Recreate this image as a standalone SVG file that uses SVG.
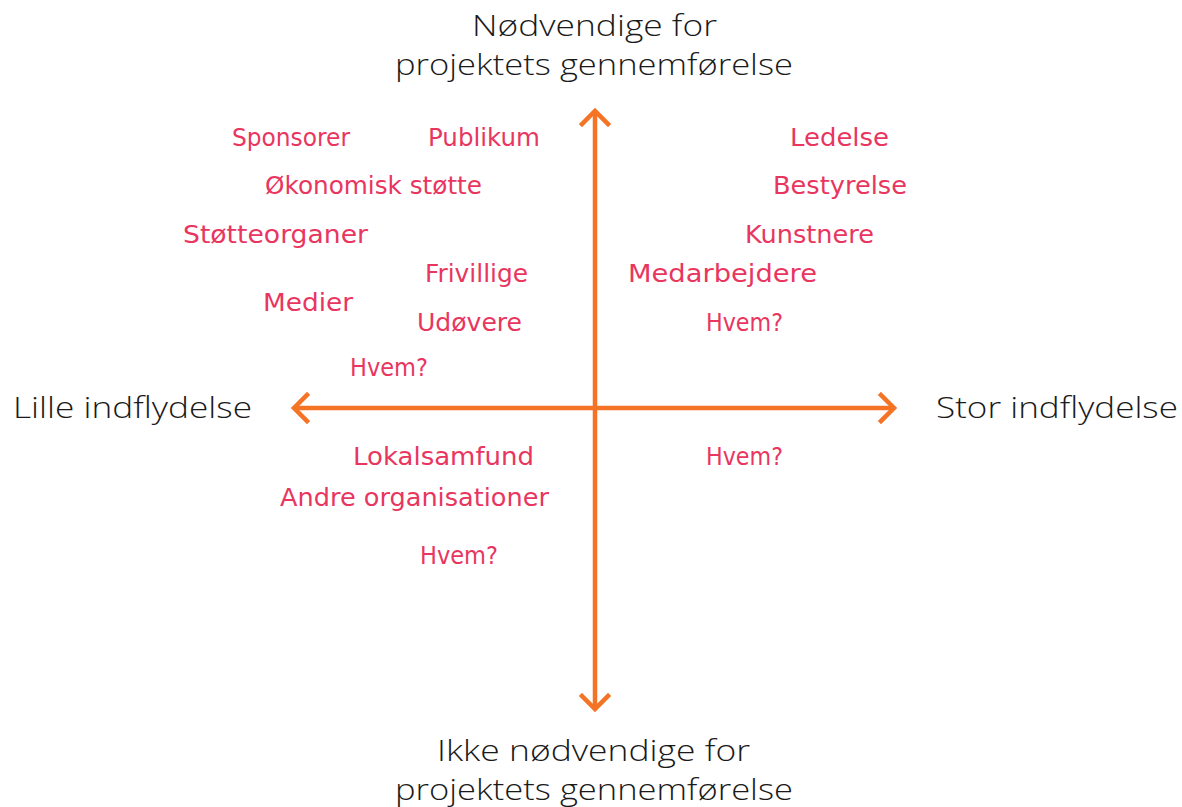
<svg xmlns="http://www.w3.org/2000/svg" width="1182" height="807" viewBox="0 0 1182 807">
<style>
.ax{font-family:"Open Sans","Liberation Sans",sans-serif;font-weight:300;font-size:30px;fill:#1a1a1a;}
.lb{font-family:"DejaVu Sans","Liberation Sans",sans-serif;font-size:24px;fill:#e8365f;}
.line{stroke:#f47325;stroke-width:4.5;fill:none;stroke-linecap:butt;}
.head{stroke:#f47325;stroke-width:4.5;fill:none;stroke-linecap:square;stroke-linejoin:miter;}
</style>
<rect width="1182" height="807" fill="#ffffff"/>
<g id="connectors">
<line class="line" x1="595" y1="112" x2="595" y2="708"/>
<line class="line" x1="295" y1="408" x2="893" y2="408"/>
<polyline class="head" points="582,124 595,111 608,124"/>
<polyline class="head" points="582,696 595,709 608,696"/>
<polyline class="head" points="307,395 294,408 307,421"/>
<polyline class="head" points="881,395 894,408 881,421"/>
</g>
<g id="axis-top"><text class="ax" x="472" y="36" textLength="245" lengthAdjust="spacingAndGlyphs">Nødvendige for</text><text class="ax" x="395" y="75" textLength="398" lengthAdjust="spacingAndGlyphs">projektets gennemførelse</text></g>
<g id="axis-bottom"><text class="ax" x="437" y="761" textLength="313" lengthAdjust="spacingAndGlyphs">Ikke nødvendige for</text><text class="ax" x="395" y="800" textLength="398" lengthAdjust="spacingAndGlyphs">projektets gennemførelse</text></g>
<g id="axis-left"><text class="ax" x="13" y="418" textLength="239" lengthAdjust="spacingAndGlyphs">Lille indflydelse</text></g>
<g id="axis-right"><text class="ax" x="936" y="418" textLength="242" lengthAdjust="spacingAndGlyphs">Stor indflydelse</text></g>
<g id="n-sponsorer"><text class="lb" x="232" y="146" textLength="118" lengthAdjust="spacingAndGlyphs">Sponsorer</text></g>
<g id="n-publikum"><text class="lb" x="428" y="146" textLength="112" lengthAdjust="spacingAndGlyphs">Publikum</text></g>
<g id="n-okonomisk"><text class="lb" x="265" y="194" textLength="217" lengthAdjust="spacingAndGlyphs">Økonomisk støtte</text></g>
<g id="n-stotteorganer"><text class="lb" x="183" y="243" textLength="185" lengthAdjust="spacingAndGlyphs">Støtteorganer</text></g>
<g id="n-frivillige"><text class="lb" x="425" y="282" textLength="103" lengthAdjust="spacingAndGlyphs">Frivillige</text></g>
<g id="n-medier"><text class="lb" x="263" y="311" textLength="90" lengthAdjust="spacingAndGlyphs">Medier</text></g>
<g id="n-udovere"><text class="lb" x="417" y="331" textLength="105" lengthAdjust="spacingAndGlyphs">Udøvere</text></g>
<g id="n-hvem1"><text class="lb" x="350" y="376" textLength="78" lengthAdjust="spacingAndGlyphs">Hvem?</text></g>
<g id="n-ledelse"><text class="lb" x="790" y="146" textLength="99" lengthAdjust="spacingAndGlyphs">Ledelse</text></g>
<g id="n-bestyrelse"><text class="lb" x="773" y="194" textLength="134" lengthAdjust="spacingAndGlyphs">Bestyrelse</text></g>
<g id="n-kunstnere"><text class="lb" x="745" y="243" textLength="129" lengthAdjust="spacingAndGlyphs">Kunstnere</text></g>
<g id="n-medarbejdere"><text class="lb" x="628" y="282" textLength="189" lengthAdjust="spacingAndGlyphs">Medarbejdere</text></g>
<g id="n-hvem2"><text class="lb" x="706" y="331" textLength="77" lengthAdjust="spacingAndGlyphs">Hvem?</text></g>
<g id="n-lokalsamfund"><text class="lb" x="353" y="465" textLength="181" lengthAdjust="spacingAndGlyphs">Lokalsamfund</text></g>
<g id="n-hvem3"><text class="lb" x="706" y="465" textLength="77" lengthAdjust="spacingAndGlyphs">Hvem?</text></g>
<g id="n-andre"><text class="lb" x="280" y="506" textLength="269" lengthAdjust="spacingAndGlyphs">Andre organisationer</text></g>
<g id="n-hvem4"><text class="lb" x="420" y="564" textLength="78" lengthAdjust="spacingAndGlyphs">Hvem?</text></g>
</svg>
